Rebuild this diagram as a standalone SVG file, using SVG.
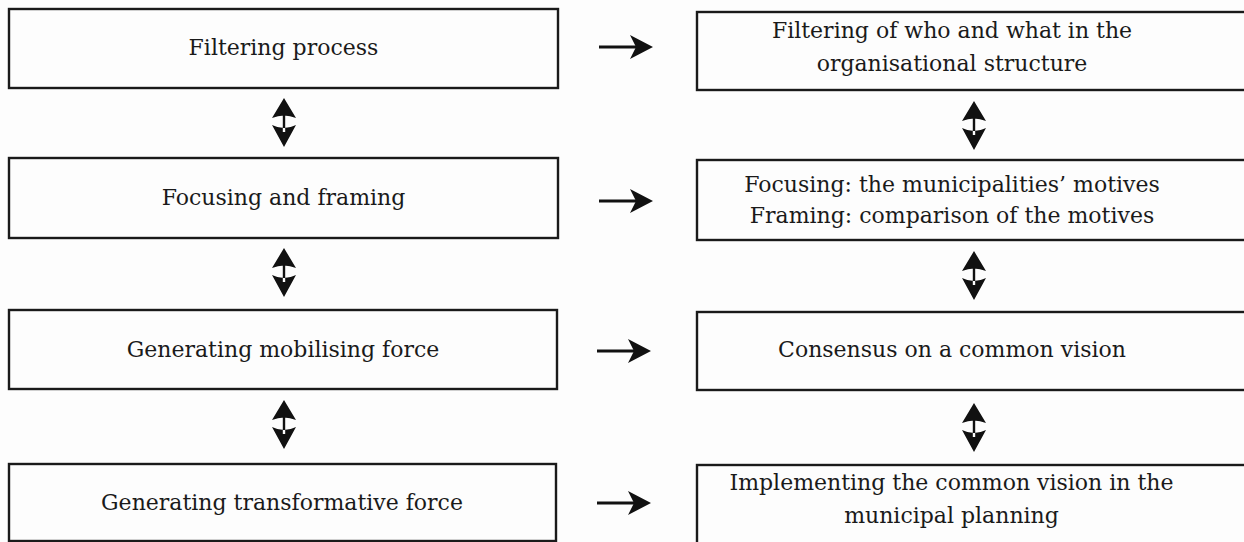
<svg xmlns="http://www.w3.org/2000/svg" xmlns:xlink="http://www.w3.org/1999/xlink" width="1244" height="542" viewBox="0 0 1244 542">
<style>
.box{fill:#fdfdfd;stroke:#1a1a1a;stroke-width:2.4}
.t{font-family:"DejaVu Serif","Liberation Serif",serif;font-size:22px;fill:#1a1a1a;text-anchor:middle}
.ah{fill:#111}
.al{stroke:#111;stroke-width:3}
</style>
<defs>
<g id="harr"><line class="al" x1="0" y1="0" x2="40" y2="0"/><path class="ah" d="M54,0 L31,-12 L37,0 L31,12 Z"/></g>
<g id="varr"><path class="ah" d="M0,0 L12,20 Q0,15 -12,20 Z M0,49 L12,27 Q0,33 -12,27 Z M-1.2,16 H1.2 V34 H-1.2 Z"/></g>
</defs>
<rect width="1244" height="542" fill="#fdfdfd"/>
<g id="n-left1"><rect class="box" x="9" y="9" width="549" height="79"/><text class="t" x="283.5" y="55">Filtering process</text></g>
<g id="n-left2"><rect class="box" x="9" y="158" width="549" height="80"/><text class="t" x="283.5" y="205">Focusing and framing</text></g>
<g id="n-left3"><rect class="box" x="9" y="310" width="548" height="79"/><text class="t" x="283" y="357">Generating mobilising force</text></g>
<g id="n-left4"><rect class="box" x="9" y="464" width="547" height="77"/><text class="t" x="282" y="510">Generating transformative force</text></g>
<g id="n-right1"><rect class="box" x="697" y="12" width="600" height="78"/><text class="t" x="952" y="38">Filtering of who and what in the</text><text class="t" x="952" y="71">organisational structure</text></g>
<g id="n-right2"><rect class="box" x="697" y="160" width="600" height="80"/><text class="t" x="952" y="192">Focusing: the municipalities’ motives</text><text class="t" x="952" y="223">Framing: comparison of the motives</text></g>
<g id="n-right3"><rect class="box" x="697" y="312" width="600" height="78"/><text class="t" x="952" y="357">Consensus on a common vision</text></g>
<g id="n-right4"><rect class="box" x="697" y="465" width="600" height="80"/><text class="t" x="951.5" y="490">Implementing the common vision in the</text><text class="t" x="951.5" y="523">municipal planning</text></g>
<g id="connectors">
<use xlink:href="#harr" href="#harr" x="599" y="47"/>
<use xlink:href="#harr" href="#harr" x="599" y="201"/>
<use xlink:href="#harr" href="#harr" x="597" y="351"/>
<use xlink:href="#harr" href="#harr" x="597" y="503"/>
<use xlink:href="#varr" href="#varr" x="284" y="98"/>
<use xlink:href="#varr" href="#varr" x="284" y="248"/>
<use xlink:href="#varr" href="#varr" x="284" y="400"/>
<use xlink:href="#varr" href="#varr" x="974" y="101"/>
<use xlink:href="#varr" href="#varr" x="974" y="251"/>
<use xlink:href="#varr" href="#varr" x="974" y="403"/>
</g>
</svg>
